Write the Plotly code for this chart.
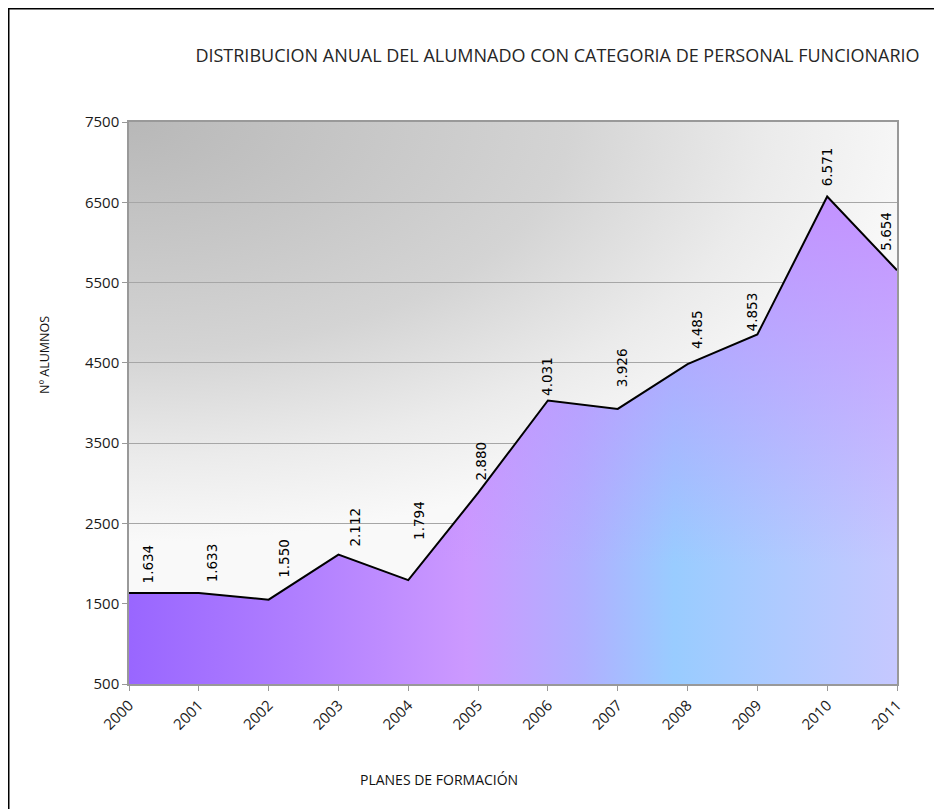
import base64
import plotly.graph_objects as go

years = [2000, 2001, 2002, 2003, 2004, 2005, 2006, 2007, 2008, 2009, 2010, 2011]
alumnos = [1634, 1633, 1550, 2112, 1794, 2880, 4031, 3926, 4485, 4853, 6571, 5654]
y_ticks = [500, 1500, 2500, 3500, 4500, 5500, 6500, 7500]

title_text = "DISTRIBUCION ANUAL DEL ALUMNADO CON CATEGORIA DE PERSONAL FUNCIONARIO"
x_title = "PLANES DE FORMACIÓN"
y_title = "Nº ALUMNOS"

# label placement offsets (pixels), style only
label_dx = [19, 13, 16, 17, 10, 3, -1, 5, 9, -5, 0, -11]
label_gap = [10, 12, 23, 9, 41, 13, 6, 23, 16, 4, 11, 20]

FONT = "Open Sans"

def fmt(v):
    return f"{v:,}".replace(",", ".")

# page is offset by the 8px body margin
W, H = 934, 801
L, R, T, B = 121, 45, 114, 125
pw, ph = W - L - R, H - T - B

fig = go.Figure()
# base area (horizontal gradient)
fig.add_trace(go.Scatter(
    x=years, y=alumnos, mode="lines", fill="tozeroy",
    line=dict(color="rgba(0,0,0,0)", width=0),
    fillgradient=dict(type="horizontal",
                      colorscale=[[0, "#9966ff"], [0.22, "#b07fff"], [0.44, "#cc99ff"],
                                  [0.59, "#b0b0ff"], [0.71, "#99ccff"], [1, "#c6c8ff"]]),
    hoverinfo="skip", showlegend=False,
))
# overlay to tilt the gradient diagonally
fig.add_trace(go.Scatter(
    x=years, y=alumnos, mode="lines", fill="tozeroy",
    line=dict(color="black", width=2),
    fillgradient=dict(type="vertical", start=2000, stop=max(alumnos),
                      colorscale=[[0, "rgba(196,140,255,0)"], [1, "rgba(196,140,255,0.9)"]]),
    hoverinfo="skip", showlegend=False,
))

for xv, yv, dx, gap in zip(years, alumnos, label_dx, label_gap):
    fig.add_annotation(x=xv, y=yv, text=fmt(yv), showarrow=False,
                       textangle=-90, xanchor="center", yanchor="bottom",
                       xshift=dx, yshift=gap - 2, borderpad=0,
                       font=dict(family="DejaVu Sans", size=13.5, color="#000"))

svg = ('<svg xmlns="http://www.w3.org/2000/svg" width="%d" height="%d">'
       '<defs><radialGradient id="g" gradientUnits="userSpaceOnUse" cx="0" cy="0" r="800" '
       'gradientTransform="scale(1,0.525)">'
       '<stop offset="0" stop-color="#b8b8b8"/><stop offset="0.55" stop-color="#d4d4d4"/>'
       '<stop offset="0.8" stop-color="#ebebeb"/><stop offset="1" stop-color="#f9f9f9"/>'
       '</radialGradient></defs>'
       '<rect width="%d" height="%d" fill="url(#g)"/></svg>') % (pw, ph, pw, ph)
src = "data:image/svg+xml;base64," + base64.b64encode(svg.encode()).decode()
fig.add_layout_image(source=src, xref="paper", yref="paper", x=0, y=1, sizex=1, sizey=1,
                     xanchor="left", yanchor="top", sizing="stretch", layer="below")

# outer frame
fig.add_shape(type="rect", xref="paper", yref="paper",
              x0=(0.75 - L) / pw, x1=(932 - L) / pw,
              y0=(H - B - 830) / ph, y1=(H - B - 0.75) / ph,
              line=dict(color="black", width=1.5), fillcolor="rgba(0,0,0,0)", layer="below")

fig.add_annotation(xref="paper", yref="paper", x=(36 - L) / pw, y=(H - B - 347) / ph,
                   xanchor="center", yanchor="middle",
                   text=y_title, textangle=-90, showarrow=False,
                   font=dict(family=FONT, size=12.5, color="#111"))
fig.add_annotation(xref="paper", yref="paper", x=(431 - L) / pw, y=(H - B - 772) / ph,
                   xanchor="center", yanchor="middle",
                   text=x_title, showarrow=False,
                   font=dict(family=FONT, size=14, color="#111"))

fig.update_layout(
    width=W, height=H, margin=dict(l=L, r=R, t=T, b=B),
    paper_bgcolor="white", plot_bgcolor="rgba(0,0,0,0)",
    font=dict(family=FONT, size=15, color="#222"),
    title=dict(text=title_text, x=549.5 / W, xanchor="center", y=1 - 48 / H, yanchor="middle",
               font=dict(family=FONT, size=18, color="#262626")),
    xaxis=dict(range=[2000, 2011], tickvals=years, ticktext=[str(y) for y in years],
               tickangle=-45, showgrid=False, showline=True, linecolor="#999", linewidth=1.5,
               mirror=True, ticks="outside", ticklen=5, tickcolor="#999",
               tickfont=dict(family=FONT, size=15, color="#1a1a1a")),
    yaxis=dict(range=[500, 7500], tickvals=y_ticks, showgrid=True, gridcolor="#a6a6a6",
               gridwidth=1, showline=True, linecolor="#999", linewidth=1.5, mirror=True,
               ticks="outside", ticklen=5, tickcolor="#999", zeroline=False,
               tickfont=dict(family=FONT, size=15, color="#1a1a1a")),
)

fig.write_html("out.html")
